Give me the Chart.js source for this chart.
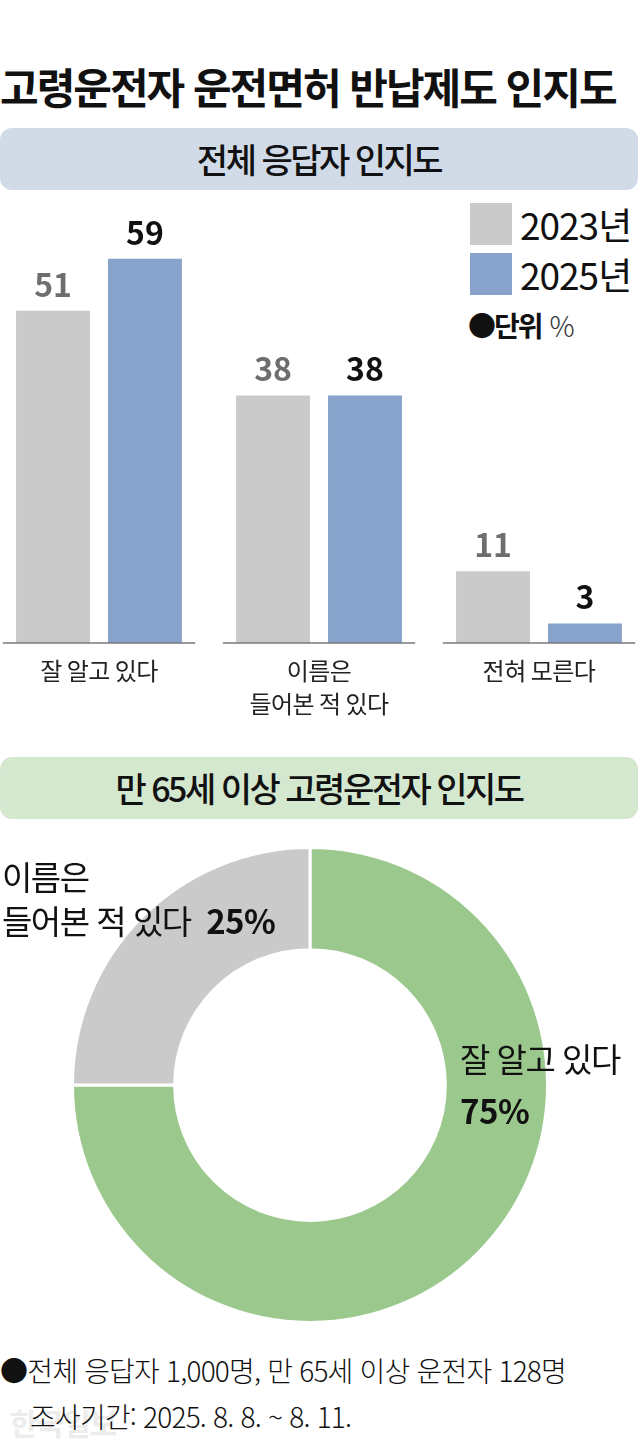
<!DOCTYPE html>
<html lang="ko">
<head>
<meta charset="utf-8">
<script src="https://cdn.jsdelivr.net/npm/chart.js@4"></script>
<style>
  html, body { margin: 0; padding: 0; background: #fff; }
  body {
    width: 640px; height: 1449px; position: relative; overflow: hidden;
    font-family: "Noto Sans CJK KR", "Noto Sans", sans-serif; color: #111;
  }
  .abs { position: absolute; white-space: nowrap; }
  #title { left: 0; top: 57px; font-size: 42px; font-weight: 700; letter-spacing: -2px; line-height: 58px; }
  .band { left: 0; width: 638px; height: 62px; border-radius: 12px; text-align: center;
          font-size: 34px; font-weight: 500; letter-spacing: -2.5px; line-height: 62px; }
  #band1 { top: 128px; background: #d0dbe7; }
  #band2 { top: 757px; background: #d4e7cf; }
  .swatch { left: 470px; width: 42px; height: 42px; }
  .legtxt { left: 520px; font-size: 37px; letter-spacing: -1px; line-height: 42px; }
  #unit { left: 468px; top: 307px; font-size: 28px; line-height: 36px; }
  #unit b { letter-spacing: -2px; }
  #unit span { font-weight: 300; color: #333; }
  .dl { font-size: 33px; letter-spacing: -1.5px; line-height: 46px; }
  .dl b { letter-spacing: -0.5px; }
  .foot { font-size: 28px; font-weight: 300; letter-spacing: -0.8px; line-height: 46px; }
  #mark { left: 10px; top: 1400px; font-size: 30px; font-weight: 700; color: #ececec; letter-spacing: -1px; }
</style>
</head>
<body>
<div id="title" class="abs">고령운전자 운전면허 반납제도 인지도</div>
<div id="band1" class="abs band">전체 응답자 인지도</div>

<div class="abs swatch" style="top:203px;background:#c9cac9"></div>
<div class="abs legtxt" style="top:203px">2023년</div>
<div class="abs swatch" style="top:253px;background:#87a3cb"></div>
<div class="abs legtxt" style="top:253px">2025년</div>
<div id="unit" class="abs"><b>●단위</b> <span>%</span></div>

<div class="abs" style="left:-11px;top:187px;width:660px;height:533px">
  <canvas id="barChart"></canvas>
</div>

<div id="band2" class="abs band">만 65세 이상 고령운전자 인지도</div>

<div class="abs" style="left:71px;top:846px;width:478px;height:478px">
  <canvas id="donutChart"></canvas>
</div>

<div class="abs dl" style="left:2px;top:853px">이름은</div>
<div class="abs dl" style="left:2px;top:897px">들어본 적 있다&nbsp; <b>25%</b></div>
<div class="abs dl" style="left:460px;top:1035px">잘 알고 있다</div>
<div class="abs dl" style="left:460px;top:1087px"><b>75%</b></div>

<div id="mark" class="abs">한국일보</div>
<div class="abs foot" style="left:0;top:1347px">●전체 응답자 1,000명, 만 65세 이상 운전자 128명</div>
<div class="abs foot" style="left:30px;top:1393px">조사기간: 2025. 8. 8. ~ 8. 11.</div>

<script>
// 전체 응답자 인지도 (%)
const categories = [['잘 알고 있다'], ['이름은', '들어본 적 있다'], ['전혀 모른다']];
const seriesNames = ['2023년', '2025년'];
const values2023 = [51, 38, 11];
const values2025 = [59, 38, 3];

// 만 65세 이상 고령운전자 인지도 (%)
const donutLabels = ['잘 알고 있다', '이름은 들어본 적 있다'];
const donutValues = [75, 25];

const FONT = '"Noto Sans CJK KR", "Noto Sans", sans-serif';
const barColors = ['#c9cac9', '#87a3cb'];
const labelColors = ['#6e6e6e', '#111111'];

Chart.defaults.font.family = FONT;
Chart.defaults.animation = false;

// value labels above bars + short axis line under each group
const barExtras = {
  id: 'barExtras',
  beforeDraw(chart) {
    chart.ctx.letterSpacing = '-0.5px';
  },
  afterDatasetsDraw(chart) {
    const { ctx, chartArea, scales: { x } } = chart;
    const half = x.width / categories.length * 0.437;
    ctx.save();
    ctx.strokeStyle = '#7a7a7a';
    ctx.lineWidth = 1.5;
    categories.forEach((c, i) => {
      const cx = x.getPixelForValue(i);
      ctx.beginPath();
      ctx.moveTo(cx - half, chartArea.bottom);
      ctx.lineTo(cx + half, chartArea.bottom);
      ctx.stroke();
    });
    ctx.letterSpacing = '0px';
    ctx.font = 'bold 32px ' + FONT;
    ctx.textAlign = 'center';
    ctx.textBaseline = 'alphabetic';
    chart.data.datasets.forEach((ds, di) => {
      chart.getDatasetMeta(di).data.forEach((bar, i) => {
        ctx.fillStyle = labelColors[di];
        ctx.fillText(ds.data[i], bar.x, bar.y - 14);
      });
    });
    ctx.restore();
  }
};

new Chart(document.getElementById('barChart'), {
  type: 'bar',
  data: {
    labels: categories,
    datasets: [
      { label: seriesNames[0], data: values2023, backgroundColor: barColors[0] },
      { label: seriesNames[1], data: values2025, backgroundColor: barColors[1] }
    ]
  },
  options: {
    responsive: true,
    maintainAspectRatio: false,
    layout: { padding: 0 },
    datasets: { bar: { categoryPercentage: 0.836, barPercentage: 0.804 } },
    plugins: { legend: { display: false }, tooltip: { enabled: false } },
    scales: {
      x: {
        grid: { display: false },
        border: { display: false },
        ticks: { color: '#222', padding: 4, font: { size: 24, lineHeight: 1.35 } },
        afterFit(scale) { scale.height = 77; }
      },
      y: { display: false, min: 0, max: 70 }
    }
  },
  plugins: [barExtras]
});

new Chart(document.getElementById('donutChart'), {
  type: 'doughnut',
  data: {
    labels: donutLabels,
    datasets: [{
      data: donutValues,
      backgroundColor: ['#9bc88d', '#c9cac9'],
      borderColor: '#ffffff',
      borderWidth: 3
    }]
  },
  options: {
    responsive: true,
    maintainAspectRatio: false,
    cutout: '57%',
    layout: { padding: 0 },
    plugins: { legend: { display: false }, tooltip: { enabled: false } }
  }
});
</script>
</body>
</html>
